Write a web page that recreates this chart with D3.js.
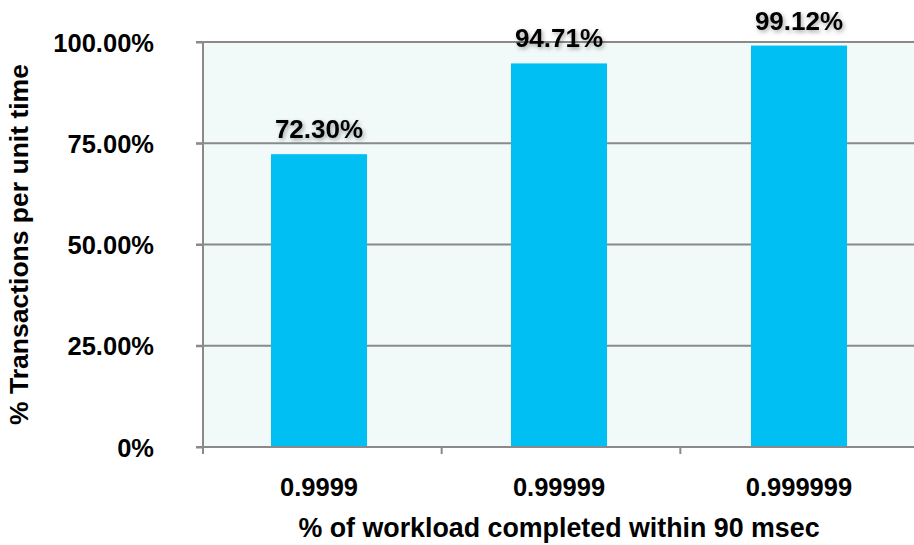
<!DOCTYPE html>
<html>
<head>
<meta charset="utf-8">
<script src="https://cdn.jsdelivr.net/npm/d3@7"></script>
<style>
  html, body { margin: 0; padding: 0; background: #ffffff; }
  svg { display: block; font-family: "Liberation Sans", Arial, Helvetica, sans-serif; font-weight: bold; }
</style>
</head>
<body>
<svg id="chart" width="914" height="545"></svg>
<script>
// Workload completion targets and share of transactions per unit time
const categories = ["0.9999", "0.99999", "0.999999"];
const values = [0.7230, 0.9471, 0.9912];
const valueLabels = ["72.30%", "94.71%", "99.12%"];
const yTicks = [0, 0.25, 0.5, 0.75, 1];
const yTickLabels = ["0%", "25.00%", "50.00%", "75.00%", "100.00%"];
const xTitle = "% of workload completed within 90 msec";
const yTitle = "% Transactions per unit time";

const svg = d3.select("#chart");
const plot = { left: 203, right: 919, top: 42, bottom: 447 };

// Bars sit in slightly offset slots; the axis ticks mark category edges
const x = d3.scaleBand()
  .domain(categories)
  .range([plot.left - 4, plot.right])
  .paddingInner(0.6)
  .paddingOuter(0.3);

const xEdges = d3.scaleBand().domain(categories).range([plot.left, plot.right]);

const y = d3.scaleLinear().domain([0, 1]).range([plot.bottom, plot.top]);

// Drop shadow for value labels
const defs = svg.append("defs");
const f = defs.append("filter").attr("id", "shadow")
  .attr("x", "-20%").attr("y", "-40%").attr("width", "140%").attr("height", "180%");
f.append("feDropShadow").attr("dx", 1.5).attr("dy", 2).attr("stdDeviation", 2)
  .attr("flood-color", "#000").attr("flood-opacity", 0.35);

// Plot background
svg.append("rect")
  .attr("x", plot.left).attr("y", plot.top)
  .attr("width", plot.right - plot.left).attr("height", plot.bottom - plot.top)
  .attr("fill", "#f1f9f9");

// Horizontal gridlines (with outward ticks on the left)
svg.append("g").selectAll("line").data(yTicks.filter(d => d > 0)).join("line")
  .attr("x1", plot.left - 7).attr("x2", plot.right)
  .attr("y1", d => y(d)).attr("y2", d => y(d))
  .attr("stroke", "#8a8a8a").attr("stroke-width", 2);

// Bars
svg.append("g").selectAll("rect").data(values).join("rect")
  .attr("x", (d, i) => x(categories[i]))
  .attr("y", d => y(d))
  .attr("width", x.bandwidth())
  .attr("height", d => y(0) - y(d))
  .attr("fill", "#00bff3");

// Y axis
const yAxis = d3.axisLeft(y).tickValues(yTicks).tickSize(7)
  .tickFormat((d, i) => yTickLabels[i]).tickPadding(42);
const gy = svg.append("g").attr("transform", `translate(${plot.left},0)`).call(yAxis);
gy.select(".domain").attr("stroke", "#8a8a8a").attr("stroke-width", 2)
  .attr("d", `M-7,${plot.top}H0V${plot.bottom + 7}`);
gy.selectAll(".tick line").attr("stroke", "#8a8a8a").attr("stroke-width", 2);
gy.selectAll(".tick text")
  .attr("font-size", 25.5).attr("font-family", "Liberation Sans, Arial, sans-serif")
  .attr("font-weight", "bold").attr("fill", "#000").attr("dy", "0.36em");

// X axis: ticks at category boundaries
const gx = svg.append("g").attr("transform", `translate(0,${plot.bottom})`);
gx.append("line").attr("x1", plot.left - 7).attr("x2", plot.right)
  .attr("y1", 0).attr("y2", 0).attr("stroke", "#8a8a8a").attr("stroke-width", 2);
gx.selectAll("line.edge").data(categories).join("line").attr("class", "edge")
  .attr("x1", d => xEdges(d)).attr("x2", d => xEdges(d))
  .attr("y1", 0).attr("y2", 7).attr("stroke", "#8a8a8a").attr("stroke-width", 2);
gx.selectAll("text").data(categories).join("text")
  .attr("x", d => x(d) + x.bandwidth() / 2)
  .attr("y", 49)
  .attr("text-anchor", "middle")
  .attr("font-size", 25.5).attr("fill", "#000")
  .text(d => d);

// Value labels above bars
svg.append("g").selectAll("text").data(values).join("text")
  .attr("x", (d, i) => x(categories[i]) + x.bandwidth() / 2)
  .attr("y", d => y(d) - 16)
  .attr("text-anchor", "middle")
  .attr("font-size", 26).attr("fill", "#000")
  .attr("filter", "url(#shadow)")
  .text((d, i) => valueLabels[i]);

// Axis titles
svg.append("text")
  .attr("x", x(categories[1]) + x.bandwidth() / 2)
  .attr("y", 537)
  .attr("text-anchor", "middle")
  .attr("font-size", 26.8).attr("fill", "#000")
  .text(xTitle);

svg.append("text")
  .attr("transform", `translate(28,${(plot.top + plot.bottom) / 2}) rotate(-90)`)
  .attr("text-anchor", "middle")
  .attr("font-size", 26.5).attr("fill", "#000")
  .text(yTitle);
</script>
</body>
</html>
